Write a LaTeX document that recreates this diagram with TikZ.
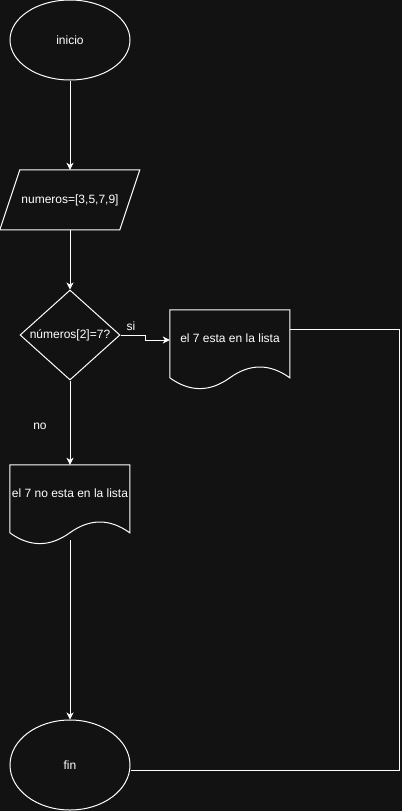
\documentclass[tikz,border=0pt]{standalone}
\usepackage{fontspec}
\setmainfont{Liberation Sans}
\usepackage{tikz}
\usetikzlibrary{shapes.geometric,arrows.meta,positioning}
\definecolor{fondo}{HTML}{121212}

\tikzset{
  linea/.style={white, line width=1pt},
  flecha/.style={linea, -{Stealth[length=7pt,width=7pt,inset=2pt]}},
  texto/.style={text=white, font=\fontsize{12}{14}\selectfont, inner sep=0pt},
  terminal/.style={texto, ellipse, draw=white, line width=1pt, minimum width=120pt},
  entrada/.style={texto, minimum width=140pt, minimum height=60pt},
  decision/.style={texto, diamond, aspect=1.1, draw=white, line width=1pt, minimum width=100pt, minimum height=90pt},
  documento/.style={texto, minimum width=120pt, minimum height=56pt},
}
% borde ondulado de documento
\newcommand{\docwave}[1]{%
  \begin{scope}[shift={(#1.north west)}]
    \draw[linea] (0,68) -- (0,0) -- (120,0) -- (120,68)
      .. controls (100,53.6) and (80,53.6) .. (60,68)
      .. controls (40,82.4) and (20,82.4) .. (0,68);
  \end{scope}}
% paralelogramo de entrada
\newcommand{\paralelo}[1]{%
  \begin{scope}[shift={(#1.north west)}]
    \draw[linea] (20,0) -- (140,0) -- (120,60) -- (0,60) -- cycle;
  \end{scope}}

\begin{document}
\begin{tikzpicture}[x=1pt, y=-1pt]
	 \fill[fondo] (0,0) rectangle (402,811);
	 \useasboundingbox (0,0) rectangle (402,811);
	 \node[terminal, minimum height=80pt] (inicio) at (70,40) {inicio};
	 \node[entrada] (numeros) at (70,200) {numeros=[3,5,7,9]};
	 \node[decision] (pregunta) at (70,335) {números[2]=7?};
	 \node[documento] (esta) at (230,338) {el 7 esta en la lista};
	 \node[documento] (noesta) at (70,493) {el 7 no esta en la lista};
	 \node[terminal, minimum height=90pt] (fin) at (70,765) {fin};
	 \paralelo{numeros}
	 \docwave{esta}
	 \docwave{noesta}
	 \foreach \a/\b in {inicio/numeros, numeros/pregunta, pregunta/noesta}
	   \draw[flecha] (\a) -- (\b);
	 \draw[flecha] ([yshift=-19pt]noesta.south) -- (fin);
	 \draw[flecha] (pregunta.east) -- ++(25,0) |- ([yshift=-2pt]esta.west);
	 \draw[linea] ([yshift=-20pt]esta.north east) -- ++(109,0) |- ([yshift=-5pt]fin.east);
	 \node[texto] (si) at (131,326) {si};
	 \node[texto] (no) at (40,426) {no};
      \end{tikzpicture}
\end{document}
